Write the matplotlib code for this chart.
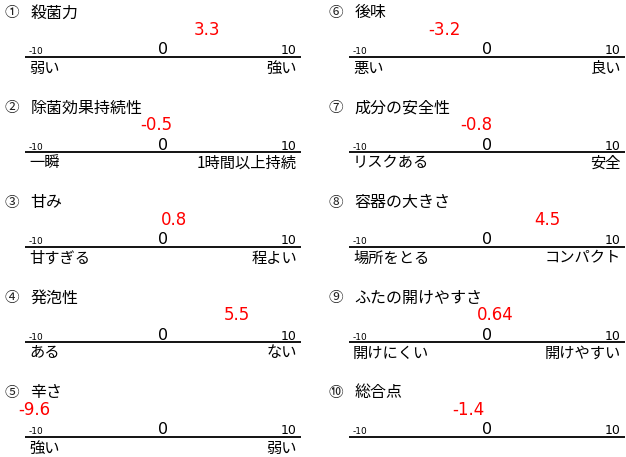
import matplotlib
matplotlib.use('Agg')
import matplotlib.pyplot as plt

plt.rcParams['font.family'] = ['Noto Sans CJK JP', 'DejaVu Sans']

numbers = ['①', '②', '③', '④', '⑤', '⑥', '⑦', '⑧', '⑨', '⑩']
titles = ['殺菌力', '除菌効果持続性', '甘み', '発泡性', '辛さ',
          '後味', '成分の安全性', '容器の大きさ', 'ふたの開けやすさ', '総合点']
values = [3.3, -0.5, 0.8, 5.5, -9.6, -3.2, -0.8, 4.5, 0.64, -1.4]
left_labels = ['弱い', '一瞬', '甘すぎる', 'ある', '強い',
               '悪い', 'リスクある', '場所をとる', '開けにくい', '']
right_labels = ['強い', '1時間以上持続', '程よい', 'ない', '弱い',
                '良い', '安全', 'コンパクト', '開けやすい', '']
scale_min, scale_mid, scale_max = -10, 0, 10

W, H = 626, 457
fig = plt.figure(figsize=(W / 100, H / 100), dpi=100)
fig.patch.set_facecolor('white')

NUM_FONT = ['DejaVu Sans']
PANEL_H = 95
LINE_W = 276
for i in range(10):
    col, row = divmod(i, 5)
    x0 = 25 + col * 324
    y0 = row * PANEL_H
    ax = fig.add_axes([x0 / W, 1 - (y0 + PANEL_H) / H, LINE_W / W, PANEL_H / H])
    ax.set_xlim(-10.3, 10.3)
    ax.set_ylim(PANEL_H, 0)
    ax.axis('off')

    ax.text(-11.25, 13, numbers[i], ha='center', va='center', fontsize=10.5,
            color='#222222', clip_on=False)
    ax.text(-9.9, 13, titles[i], ha='left', va='center', fontsize=11.5,
            color='black')
    ax.text(values[i], 30, str(values[i]), ha='center', va='center',
            fontsize=12, color='#ff0000', family=NUM_FONT)

    ax.axhline(57, color='black', lw=1.3)
    ax.text(scale_min, 54.5, str(scale_min), ha='left', va='baseline',
            fontsize=6.5, family=NUM_FONT)
    ax.text(scale_mid, 54.5, str(scale_mid), ha='center', va='baseline',
            fontsize=11.5, family=NUM_FONT)
    ax.text(scale_max, 54.5, str(scale_max), ha='right', va='baseline',
            fontsize=9, family=NUM_FONT)

    ax.text(scale_min, 68, left_labels[i], ha='left', va='center', fontsize=11)
    ax.text(scale_max, 68, right_labels[i], ha='right', va='center', fontsize=11)

fig.savefig('out.png', dpi=100, facecolor='white')
